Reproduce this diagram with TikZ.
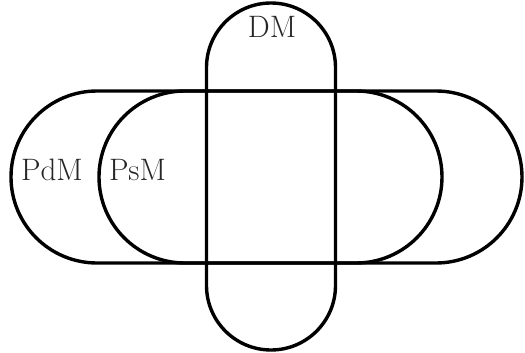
\documentclass[tikz,border=0pt]{standalone}
\begin{document}
\begin{tikzpicture}[x=1pt,y=-1pt,
  setline/.style={draw=black,line width=3.4pt},
  setlabel/.style={text=black!85,font=\fontsize{31}{34}\selectfont,inner sep=0pt,anchor=base}]
\useasboundingbox (0,0) rectangle (525,353);
% PdM
\draw[setline,rounded corners=86pt] (11,91) rectangle (522,263);
% PsM
\draw[setline,rounded corners=86pt] (99,91) rectangle (442,263);
% DM
\draw[setline,rounded corners=64.5pt] (206.5,3) rectangle (335.5,350);
\node[setlabel] (pdm) at (52,180.5) {PdM};
\node[setlabel] (psm) at (137.5,180.5) {PsM};
\node[setlabel] (dm) at (272,38) {DM};
\end{tikzpicture}
\end{document}
